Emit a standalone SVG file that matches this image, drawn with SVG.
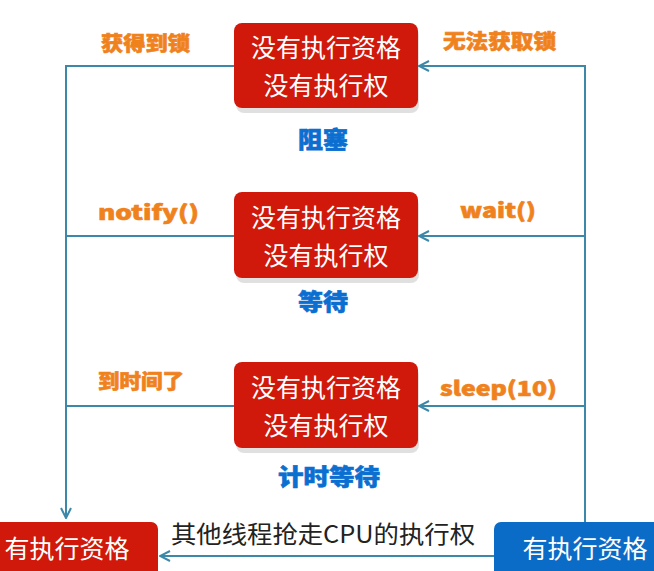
<svg xmlns="http://www.w3.org/2000/svg" width="654" height="571" viewBox="0 0 654 571">
<defs>
<style>
.box{fill:#d0180b;}
.shadow{fill:#000;opacity:0.12;}
.bt{font-family:"Noto Sans CJK SC","Noto Sans",sans-serif;font-size:25px;fill:#fff;text-anchor:middle;}
.lbl{font-family:"Noto Sans CJK SC","Noto Sans",sans-serif;font-size:20px;font-weight:900;fill:#f0821e;stroke:#f0821e;stroke-width:0.6;}
.st{font-family:"Noto Sans CJK SC","Noto Sans",sans-serif;font-size:23px;font-weight:900;fill:#0a6fd0;stroke:#0a6fd0;stroke-width:0.6;}
.ln{fill:none;stroke:#3c88a8;stroke-width:2;}
.bot{font-family:"Noto Sans CJK SC","Noto Sans",sans-serif;font-size:24px;fill:#222;}
</style>
<marker id="ah" viewBox="0 0 12 12" refX="11" refY="6" markerWidth="12" markerHeight="12" markerUnits="userSpaceOnUse" orient="auto">
<path d="M1,1 L11,6 L1,11" fill="none" stroke="#3c88a8" stroke-width="2"/>
</marker>
</defs>
<rect width="654" height="571" fill="#fff"/>
<g id="connectors">
<path class="ln" d="M234,66 H66 V518" marker-end="url(#ah)"/>
<path class="ln" d="M234,236 H66"/>
<path class="ln" d="M234,406 H66"/>
<path class="ln" d="M585,522 V66 H419" marker-end="url(#ah)"/>
<path class="ln" d="M585,236 H419" marker-end="url(#ah)"/>
<path class="ln" d="M585,406 H419" marker-end="url(#ah)"/>
<path class="ln" d="M494,556 H160" marker-end="url(#ah)"/>
</g>
<g id="lbl-lock"><text class="lbl" x="101" y="51" textLength="89" lengthAdjust="spacingAndGlyphs">获得到锁</text></g>
<g id="lbl-nolock"><text class="lbl" x="443" y="49" textLength="113" lengthAdjust="spacingAndGlyphs">无法获取锁</text></g>
<g id="lbl-notify"><text class="lbl" x="98" y="220" textLength="101" lengthAdjust="spacingAndGlyphs">notify()</text></g>
<g id="lbl-wait"><text class="lbl" x="460" y="218" textLength="76" lengthAdjust="spacingAndGlyphs">wait()</text></g>
<g id="lbl-time"><text class="lbl" x="98" y="389" textLength="86" lengthAdjust="spacingAndGlyphs">到时间了</text></g>
<g id="lbl-sleep"><text class="lbl" x="440" y="396" textLength="117" lengthAdjust="spacingAndGlyphs">sleep(10)</text></g>
<g id="blocked">
<rect class="shadow" x="236" y="27" width="183" height="86" rx="8"/>
<rect class="box" x="234" y="23" width="184" height="85" rx="8"/>
<text class="bt" x="326" y="57">没有执行资格</text>
<text class="bt" x="326" y="95">没有执行权</text>
<text class="st" x="298" y="148" textLength="50" lengthAdjust="spacingAndGlyphs">阻塞</text>
</g>
<g id="waiting">
<rect class="shadow" x="236" y="197" width="183" height="86" rx="8"/>
<rect class="box" x="234" y="192" width="184" height="86" rx="8"/>
<text class="bt" x="326" y="227">没有执行资格</text>
<text class="bt" x="326" y="265">没有执行权</text>
<text class="st" x="298" y="310" textLength="50" lengthAdjust="spacingAndGlyphs">等待</text>
</g>
<g id="timed">
<rect class="shadow" x="236" y="367" width="183" height="86" rx="8"/>
<rect class="box" x="234" y="362" width="184" height="86" rx="8"/>
<text class="bt" x="326" y="397">没有执行资格</text>
<text class="bt" x="326" y="435">没有执行权</text>
<text class="st" x="278" y="485" textLength="102" lengthAdjust="spacingAndGlyphs">计时等待</text>
</g>
<g id="runnable">
<rect class="box" x="-10" y="522" width="168" height="60" rx="7"/>
<text class="bt" x="67" y="558">有执行资格</text>
</g>
<g id="running">
<rect x="494" y="522" width="170" height="60" rx="7" fill="#0b6cc8"/>
<text class="bt" x="585" y="558">有执行资格</text>
</g>
<g id="bottom-label"><text class="bot" x="171" y="543" textLength="304" lengthAdjust="spacingAndGlyphs">其他线程抢走CPU的执行权</text></g>
</svg>
